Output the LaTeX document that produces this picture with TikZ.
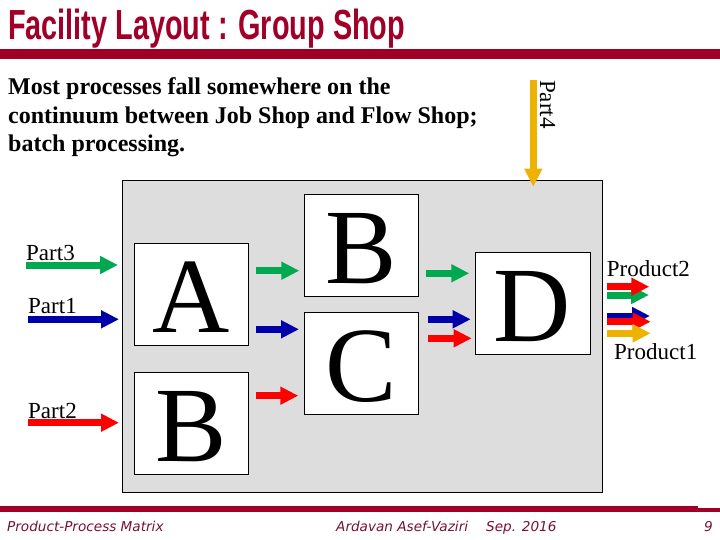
\documentclass[tikz,border=0pt]{standalone}
\usepackage{fontspec}
\setmainfont{Liberation Serif}
\newfontfamily\titlefont{Liberation Sans}
\newfontfamily\footfont{DejaVu Sans}
\usetikzlibrary{arrows.meta}
\definecolor{titlered}{RGB}{160,0,40}
\definecolor{footred}{RGB}{120,16,48}
\definecolor{panelgray}{RGB}{221,221,221}
\definecolor{agreen}{RGB}{0,168,80}
\definecolor{ablue}{RGB}{0,0,170}
\definecolor{ared}{RGB}{255,0,0}
\definecolor{ayellow}{RGB}{238,178,0}
\tikzset{
  blockarrow/.style={line width=7pt, line cap=butt, -{Triangle[length=18pt,width=17pt]}},
  station/.style={draw=black, line width=0.8pt, fill=white, minimum width=114pt, minimum height=102pt,
    inner sep=0pt, text height=77pt, text depth=0pt, font=\fontsize{107}{107}\selectfont},
  lbl/.style={inner sep=0pt, anchor=base west, font=\fontsize{23}{23}\selectfont},
  bodytext/.style={inner sep=0pt, anchor=base west, font=\fontsize{24}{28}\selectfont\bfseries},
  foot/.style={inner sep=0pt, anchor=base west, text=footred, font=\footfont\itshape\fontsize{13.6}{14}\selectfont}
}
\begin{document}
\begin{tikzpicture}[x=1pt,y=-1pt]
\useasboundingbox (0,0) rectangle (720,540);
% title
\node[inner sep=0pt, anchor=base west, text=titlered] (title) at (8,40)
  {\resizebox{397pt}{30.5pt}{\titlefont\bfseries Facility Layout : Group Shop}};
\fill[titlered] (0,49.5) rectangle (720,59.5);
% body text
\node[bodytext] (l1) at (8,95) {Most processes fall somewhere on the};
\node[bodytext] (l2) at (8,123.5) {continuum between Job Shop and Flow Shop;};
\node[bodytext] (l3) at (8,152) {batch processing.};
% panel
\node[draw=black, line width=0.8pt, fill=panelgray, inner sep=0pt, minimum width=480pt, minimum height=311.5pt] (panel) at (362.5,336.25) {};
% stations
\node[station] (A) at (191.3,294.3) {A};
\node[station] (B1) at (191.3,423.3) {B};
\node[station] (B2) at (361.3,245.2) {B};
\node[station] (C) at (361.3,363.2) {C};
\node[station, minimum width=115pt] (D) at (532.5,303.3) {D};
% part labels
\node[lbl] (part3) at (26,260) {Part3};
\node[lbl] (part1) at (28,313.3) {Part1};
\node[lbl] (part2) at (28,418.3) {Part2};
\node[lbl, rotate=-90] (part4) at (540,80) {Part4};
\node[lbl] (prod2) at (606.7,276.7) {Product2};
\node[lbl] (prod1) at (614,359.3) {Product1};
% arrow coordinates
\coordinate (p3s) at (26,265);   \coordinate (p3e) at (118,265);
\coordinate (p1s) at (28,319.3); \coordinate (p1e) at (119,319.3);
\coordinate (p2s) at (28,422.7); \coordinate (p2e) at (119,422.7);
\coordinate (p4s) at (533.3,80); \coordinate (p4e) at (533.3,186.7);
\coordinate (abs) at (256,270.7); \coordinate (abe) at (299.3,270.7);
\coordinate (acs) at (256,329.3); \coordinate (ace) at (299,329.3);
\coordinate (bcs) at (256,395.7); \coordinate (bce) at (298.3,395.7);
\coordinate (bds) at (426,273.3); \coordinate (bde) at (469.3,273.3);
\coordinate (cds1) at (428,319.3); \coordinate (cde1) at (470.7,319.3);
\coordinate (cds2) at (428,338.3); \coordinate (cde2) at (471.7,338.3);
\coordinate (o2gs) at (606.7,295); \coordinate (o2ge) at (649,295);
\coordinate (o2rs) at (606.7,286.7); \coordinate (o2re) at (649.3,286.7);
\coordinate (o1bs) at (607,316); \coordinate (o1be) at (650,316);
\coordinate (o1rs) at (607,321.7); \coordinate (o1re) at (650.7,321.7);
\coordinate (o1ys) at (607,333.3); \coordinate (o1ye) at (650.7,333.3);
% arrows
\draw[blockarrow, agreen] (p3s) -- (p3e);
\draw[blockarrow, ablue] (p1s) -- (p1e);
\draw[blockarrow, ared] (p2s) -- (p2e);
\draw[blockarrow, ayellow] (p4s) -- (p4e);
\draw[blockarrow, agreen] (abs) -- (abe);
\draw[blockarrow, ablue] (acs) -- (ace);
\draw[blockarrow, ared] (bcs) -- (bce);
\draw[blockarrow, agreen] (bds) -- (bde);
\draw[blockarrow, ablue] (cds1) -- (cde1);
\draw[blockarrow, ared] (cds2) -- (cde2);
\draw[blockarrow, agreen] (o2gs) -- (o2ge);
\draw[blockarrow, ared] (o2rs) -- (o2re);
\draw[blockarrow, ablue] (o1bs) -- (o1be);
\draw[blockarrow, ared] (o1rs) -- (o1re);
\draw[blockarrow, ayellow] (o1ys) -- (o1ye);
% footer
\fill[titlered] (0,506) rectangle (698,512.3);
\fill[titlered] (698,508.3) rectangle (720,512);
\node[foot] (f1) at (7,531) {Product-Process Matrix};
\node[foot] (f2) at (336,531) {Ardavan Asef-Vaziri};
\node[foot] (f3) at (486,531) {Sep. 2016};
\node[foot] (f4) at (704,531) {9};
\end{tikzpicture}
\end{document}
